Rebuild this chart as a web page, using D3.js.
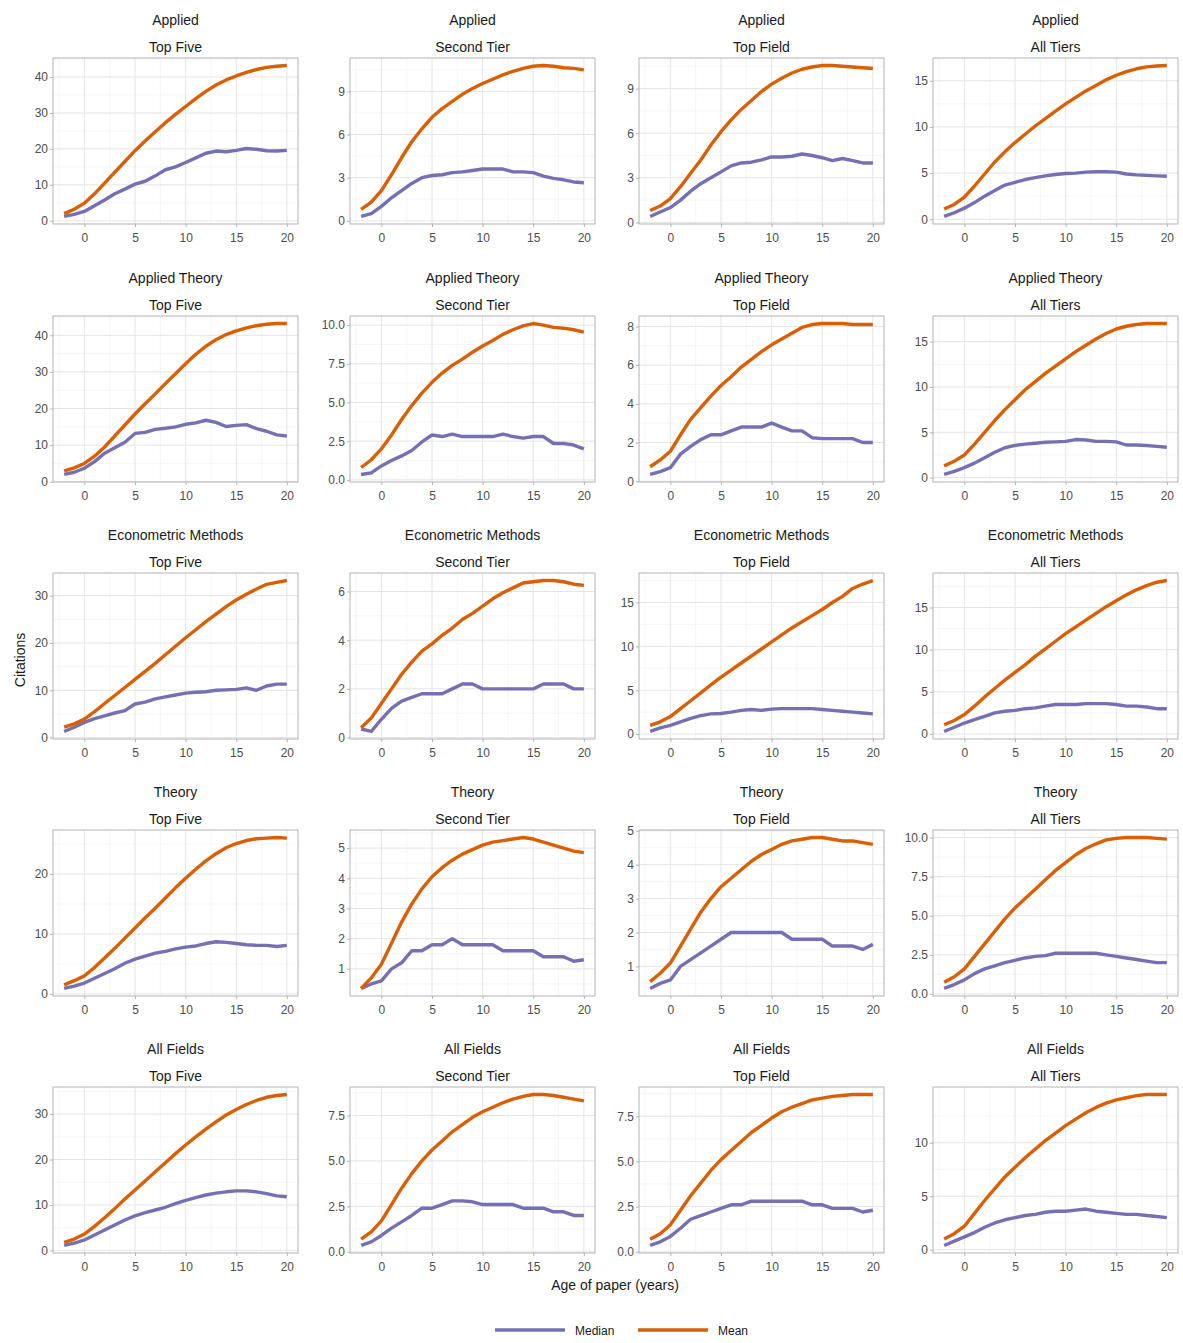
<html>
<head>
<meta charset="utf-8">
<script src="https://d3js.org/d3.v7.min.js"></script>
<style>
  body { margin: 0; background: #fff; }
  text { font-family: "Liberation Sans", Arial, sans-serif; }
</style>
</head>
<body>
<svg id="chart" width="1183" height="1343"></svg>
<script>
// ---- data ----
var fields = ["Applied", "Applied Theory", "Econometric Methods", "Theory", "All Fields"];
var tiers = ["Top Five", "Second Tier", "Top Field", "All Tiers"];
var ages = [-2, -1, 0, 1, 2, 3, 4, 5, 6, 7, 8, 9, 10, 11, 12, 13, 14, 15, 16, 17, 18, 19, 20];
var xTicks = [0, 5, 10, 15, 20];

// one list per tier (Top Five, Second Tier, Top Field, All Tiers)
var appliedMean = [
  [2, 3.2, 4.9, 7.5, 10.5, 13.5, 16.5, 19.5, 22.2, 24.8, 27.3, 29.6, 31.8, 34, 36, 37.8, 39.2, 40.3, 41.3, 42.1, 42.7, 43, 43.2],
  [0.8, 1.3, 2.1, 3.2, 4.4, 5.5, 6.4, 7.2, 7.8, 8.3, 8.8, 9.2, 9.55, 9.85, 10.15, 10.4, 10.6, 10.75, 10.8, 10.75, 10.65, 10.6, 10.5],
  [0.8, 1.1, 1.6, 2.4, 3.3, 4.2, 5.2, 6.1, 6.9, 7.6, 8.2, 8.8, 9.3, 9.7, 10.05, 10.3, 10.45, 10.55, 10.55, 10.5, 10.45, 10.4, 10.35],
  [1.1, 1.6, 2.4, 3.6, 4.9, 6.2, 7.3, 8.3, 9.2, 10.1, 10.9, 11.7, 12.5, 13.2, 13.9, 14.5, 15.1, 15.6, 16, 16.3, 16.5, 16.6, 16.65]
];
var appliedMedian = [
  [1.2, 1.8, 2.6, 4.2, 5.8, 7.5, 8.8, 10.2, 11, 12.5, 14.2, 15, 16.2, 17.5, 18.8, 19.4, 19.2, 19.6, 20.1, 19.9, 19.5, 19.4, 19.6],
  [0.3, 0.5, 1, 1.6, 2.1, 2.6, 3, 3.15, 3.2, 3.35, 3.4, 3.5, 3.6, 3.6, 3.6, 3.4, 3.4, 3.35, 3.1, 2.95, 2.85, 2.7, 2.65],
  [0.4, 0.7, 1, 1.5, 2.1, 2.6, 3, 3.4, 3.8, 4, 4.05, 4.2, 4.4, 4.4, 4.45, 4.6, 4.5, 4.35, 4.15, 4.3, 4.15, 4, 4],
  [0.3, 0.7, 1.2, 1.8, 2.5, 3.1, 3.7, 4, 4.3, 4.5, 4.7, 4.85, 4.95, 5, 5.1, 5.15, 5.15, 5.1, 4.9, 4.8, 4.75, 4.7, 4.65]
];
var appliedTheoryMean = [
  [3, 3.8, 5, 7, 9.5, 12.5, 15.5, 18.5, 21.3, 24, 26.8, 29.5, 32.2, 34.8, 37, 38.8, 40.2, 41.2, 42, 42.6, 43, 43.2, 43.2],
  [0.8, 1.3, 2, 2.9, 3.9, 4.8, 5.6, 6.3, 6.9, 7.4, 7.8, 8.25, 8.65, 9, 9.4, 9.7, 9.95, 10.1, 10, 9.85, 9.8, 9.7, 9.55],
  [0.75, 1.1, 1.55, 2.4, 3.2, 3.8, 4.4, 4.95, 5.4, 5.9, 6.3, 6.7, 7.05, 7.35, 7.65, 7.95, 8.1, 8.15, 8.15, 8.15, 8.1, 8.1, 8.1],
  [1.3, 1.8, 2.5, 3.7, 5, 6.3, 7.5, 8.6, 9.7, 10.6, 11.5, 12.3, 13.1, 13.9, 14.6, 15.3, 15.9, 16.4, 16.7, 16.9, 17, 17, 17]
];
var appliedTheoryMedian = [
  [2, 2.6, 3.7, 5.5, 7.8, 9.3, 10.8, 13.2, 13.5, 14.3, 14.6, 15, 15.7, 16.1, 16.8, 16.2, 15.1, 15.4, 15.6, 14.5, 13.8, 12.8, 12.5],
  [0.35, 0.45, 0.9, 1.25, 1.55, 1.9, 2.45, 2.9, 2.8, 2.95, 2.8, 2.8, 2.8, 2.8, 2.95, 2.8, 2.7, 2.8, 2.8, 2.35, 2.35, 2.25, 2],
  [0.35, 0.5, 0.7, 1.4, 1.8, 2.15, 2.4, 2.4, 2.6, 2.8, 2.8, 2.8, 3, 2.8, 2.6, 2.6, 2.25, 2.2, 2.2, 2.2, 2.2, 2, 2],
  [0.35, 0.7, 1.1, 1.6, 2.2, 2.8, 3.3, 3.55, 3.7, 3.8, 3.9, 3.95, 4, 4.2, 4.15, 4, 4, 3.95, 3.6, 3.6, 3.55, 3.45, 3.35]
];
var econometricMean = [
  [2.2, 2.9, 3.9, 5.5, 7.2, 8.9, 10.6, 12.3, 14, 15.7, 17.5, 19.3, 21.1, 22.8, 24.5, 26.1, 27.7, 29.1, 30.3, 31.4, 32.4, 32.8, 33.2],
  [0.4, 0.8, 1.4, 2, 2.6, 3.1, 3.55, 3.85, 4.2, 4.5, 4.85, 5.1, 5.4, 5.7, 5.95, 6.15, 6.35, 6.4, 6.45, 6.45, 6.4, 6.3, 6.25],
  [1, 1.4, 2, 2.9, 3.8, 4.7, 5.6, 6.5, 7.3, 8.1, 8.9, 9.7, 10.5, 11.3, 12.1, 12.8, 13.5, 14.2, 15, 15.7, 16.6, 17.1, 17.5],
  [1.1, 1.6, 2.3, 3.3, 4.4, 5.4, 6.4, 7.3, 8.2, 9.2, 10.1, 11, 11.9, 12.7, 13.5, 14.3, 15.1, 15.8, 16.5, 17.1, 17.6, 18, 18.2]
];
var econometricMedian = [
  [1.3, 2.2, 3.2, 4, 4.6, 5.2, 5.7, 7.1, 7.5, 8.2, 8.6, 9, 9.4, 9.6, 9.7, 10, 10.1, 10.2, 10.5, 10, 10.9, 11.3, 11.3],
  [0.35, 0.25, 0.75, 1.2, 1.5, 1.65, 1.8, 1.8, 1.8, 2, 2.2, 2.2, 2, 2, 2, 2, 2, 2, 2.2, 2.2, 2.2, 2, 2],
  [0.3, 0.7, 1, 1.4, 1.8, 2.1, 2.3, 2.35, 2.5, 2.7, 2.8, 2.7, 2.85, 2.9, 2.9, 2.9, 2.9, 2.8, 2.7, 2.6, 2.5, 2.4, 2.3],
  [0.3, 0.8, 1.3, 1.7, 2.1, 2.5, 2.7, 2.8, 3, 3.1, 3.3, 3.5, 3.5, 3.5, 3.6, 3.6, 3.6, 3.5, 3.3, 3.3, 3.2, 3, 3]
];
var theoryMean = [
  [1.5, 2.2, 3, 4.4, 6, 7.6, 9.3, 11, 12.7, 14.3, 16, 17.7, 19.3, 20.8, 22.2, 23.4, 24.4, 25.1, 25.6, 25.9, 26, 26.1, 26],
  [0.35, 0.7, 1.15, 1.85, 2.55, 3.15, 3.65, 4.05, 4.35, 4.6, 4.8, 4.95, 5.1, 5.2, 5.25, 5.3, 5.35, 5.3, 5.2, 5.1, 5, 4.9, 4.85],
  [0.55, 0.8, 1.1, 1.6, 2.1, 2.6, 3, 3.35, 3.6, 3.85, 4.1, 4.3, 4.45, 4.6, 4.7, 4.75, 4.8, 4.8, 4.75, 4.7, 4.7, 4.65, 4.6],
  [0.75, 1.1, 1.6, 2.4, 3.2, 4, 4.8, 5.5, 6.1, 6.7, 7.3, 7.9, 8.4, 8.9, 9.3, 9.6, 9.85, 9.95, 10, 10, 10, 9.95, 9.9]
];
var theoryMedian = [
  [0.9, 1.3, 1.8, 2.6, 3.4, 4.2, 5.1, 5.8, 6.3, 6.8, 7.1, 7.5, 7.8, 8, 8.4, 8.7, 8.6, 8.4, 8.2, 8.1, 8.1, 7.9, 8.1],
  [0.35, 0.5, 0.6, 1, 1.2, 1.6, 1.6, 1.8, 1.8, 2, 1.8, 1.8, 1.8, 1.8, 1.6, 1.6, 1.6, 1.6, 1.4, 1.4, 1.4, 1.25, 1.3],
  [0.35, 0.5, 0.6, 1, 1.2, 1.4, 1.6, 1.8, 2, 2, 2, 2, 2, 2, 1.8, 1.8, 1.8, 1.8, 1.6, 1.6, 1.6, 1.5, 1.65],
  [0.35, 0.6, 0.9, 1.3, 1.6, 1.8, 2, 2.15, 2.3, 2.4, 2.45, 2.6, 2.6, 2.6, 2.6, 2.6, 2.5, 2.4, 2.3, 2.2, 2.1, 2, 2]
];
var allFieldsMean = [
  [1.8, 2.5, 3.6, 5.3, 7.2, 9.2, 11.3, 13.3, 15.3, 17.3, 19.3, 21.3, 23.2, 25, 26.7, 28.3, 29.8, 31, 32.1, 33, 33.7, 34.1, 34.3],
  [0.7, 1.1, 1.7, 2.6, 3.5, 4.3, 5, 5.6, 6.1, 6.6, 7, 7.4, 7.7, 7.95, 8.2, 8.4, 8.55, 8.65, 8.65, 8.6, 8.5, 8.4, 8.3],
  [0.7, 1, 1.5, 2.3, 3.1, 3.8, 4.5, 5.1, 5.6, 6.1, 6.6, 7, 7.4, 7.75, 8, 8.2, 8.4, 8.5, 8.6, 8.65, 8.7, 8.7, 8.7],
  [1, 1.5, 2.2, 3.4, 4.6, 5.7, 6.8, 7.7, 8.6, 9.4, 10.2, 10.9, 11.6, 12.2, 12.8, 13.3, 13.7, 14, 14.2, 14.4, 14.5, 14.5, 14.5]
];
var allFieldsMedian = [
  [1.1, 1.6, 2.3, 3.4, 4.5, 5.6, 6.7, 7.6, 8.3, 8.9, 9.5, 10.3, 11, 11.6, 12.2, 12.6, 12.9, 13.1, 13.1, 12.9, 12.5, 12, 11.8],
  [0.35, 0.55, 0.9, 1.3, 1.65, 2, 2.4, 2.4, 2.6, 2.8, 2.8, 2.75, 2.6, 2.6, 2.6, 2.6, 2.4, 2.4, 2.4, 2.2, 2.2, 2, 2],
  [0.35, 0.55, 0.85, 1.3, 1.8, 2, 2.2, 2.4, 2.6, 2.6, 2.8, 2.8, 2.8, 2.8, 2.8, 2.8, 2.6, 2.6, 2.4, 2.4, 2.4, 2.2, 2.3],
  [0.4, 0.8, 1.2, 1.6, 2.1, 2.5, 2.8, 3, 3.2, 3.3, 3.5, 3.6, 3.6, 3.7, 3.8, 3.6, 3.5, 3.4, 3.3, 3.3, 3.2, 3.1, 3]
];

// y tick labels per field, per tier
var appliedTicks = [[0, 10, 20, 30, 40], [0, 3, 6, 9], [0, 3, 6, 9], [0, 5, 10, 15]];
var appliedTheoryTicks = [[0, 10, 20, 30, 40], [0, 2.5, 5, 7.5, 10], [0, 2, 4, 6, 8], [0, 5, 10, 15]];
var econometricTicks = [[0, 10, 20, 30], [0, 2, 4, 6], [0, 5, 10, 15], [0, 5, 10, 15]];
var theoryTicks = [[0, 10, 20], [1, 2, 3, 4, 5], [1, 2, 3, 4, 5], [0, 2.5, 5, 7.5, 10]];
var allFieldsTicks = [[0, 10, 20, 30], [0, 2.5, 5, 7.5], [0, 2.5, 5, 7.5], [0, 5, 10]];

var meanByField = [appliedMean, appliedTheoryMean, econometricMean, theoryMean, allFieldsMean];
var medianByField = [appliedMedian, appliedTheoryMedian, econometricMedian, theoryMedian, allFieldsMedian];
var ticksByField = [appliedTicks, appliedTheoryTicks, econometricTicks, theoryTicks, allFieldsTicks];

// ---- layout ----
var colLeft = [53, 350, 639, 933];
var rowTop = [58, 316, 573, 830, 1087];
var panelW = 245, panelH = 166;
var medianColor = "#7570b3", meanColor = "#d95f02";

var svg = d3.select("#chart");

function expand(lo, hi) {
  var pad = (hi - lo) * 0.05;
  return [lo - pad, hi + pad];
}

fields.forEach(function(field, r) {
  tiers.forEach(function(tier, c) {
    var med = medianByField[r][c], mean = meanByField[r][c];
    var yt = ticksByField[r][c];
    var all = med.concat(mean);

    var x = d3.scaleLinear().domain(expand(-2, 20)).range([0, panelW]);
    var y = d3.scaleLinear().domain(expand(d3.min(all), d3.max(all))).range([panelH, 0]);

    var g = svg.append("g").attr("transform", "translate(" + colLeft[c] + "," + rowTop[r] + ")");

    // strip titles
    g.append("text").attr("x", panelW / 2).attr("y", -33).attr("text-anchor", "middle")
      .attr("font-size", 14).attr("fill", "#1a1a1a").text(field);
    g.append("text").attr("x", panelW / 2).attr("y", -6).attr("text-anchor", "middle")
      .attr("font-size", 14).attr("fill", "#1a1a1a").text(tier);

    // minor grid
    var step = yt[1] - yt[0];
    var yMinor = [];
    for (var i = 0; i <= yt.length; i++) {
      var v = yt[0] + (i - 0.5) * step;
      if (v > y.domain()[0] && v < y.domain()[1]) yMinor.push(v);
    }
    var xMinor = [-2.5, 2.5, 7.5, 12.5, 17.5];
    g.selectAll(".mx").data(xMinor).enter().append("line")
      .attr("x1", function(d) { return x(d); }).attr("x2", function(d) { return x(d); })
      .attr("y1", 0).attr("y2", panelH).attr("stroke", "#f0f0f0").attr("stroke-width", 0.6);
    g.selectAll(".my").data(yMinor).enter().append("line")
      .attr("y1", function(d) { return y(d); }).attr("y2", function(d) { return y(d); })
      .attr("x1", 0).attr("x2", panelW).attr("stroke", "#f0f0f0").attr("stroke-width", 0.6);

    // major grid
    g.selectAll(".gx").data(xTicks).enter().append("line")
      .attr("x1", function(d) { return x(d); }).attr("x2", function(d) { return x(d); })
      .attr("y1", 0).attr("y2", panelH).attr("stroke", "#e4e4e4").attr("stroke-width", 1);
    g.selectAll(".gy").data(yt).enter().append("line")
      .attr("y1", function(d) { return y(d); }).attr("y2", function(d) { return y(d); })
      .attr("x1", 0).attr("x2", panelW).attr("stroke", "#e4e4e4").attr("stroke-width", 1);

    // lines
    var line = d3.line()
      .x(function(d, i) { return x(ages[i]); })
      .y(function(d) { return y(d); });
    g.append("path").attr("d", line(med)).attr("fill", "none")
      .attr("stroke", medianColor).attr("stroke-width", 3.4).attr("stroke-linejoin", "round");
    g.append("path").attr("d", line(mean)).attr("fill", "none")
      .attr("stroke", meanColor).attr("stroke-width", 3.4).attr("stroke-linejoin", "round");

    // border
    g.append("rect").attr("width", panelW).attr("height", panelH)
      .attr("fill", "none").attr("stroke", "#b3b3b3").attr("stroke-width", 1);

    // axes
    var fmt = yt.some(function(d) { return d % 1 !== 0; }) ? d3.format(".1f") : d3.format("d");
    var yAxis = g.append("g").call(d3.axisLeft(y).tickValues(yt).tickFormat(fmt).tickSize(3).tickPadding(2));
    var xAxis = g.append("g").attr("transform", "translate(0," + panelH + ")")
      .call(d3.axisBottom(x).tickValues(xTicks).tickSize(3).tickPadding(6));
    [yAxis, xAxis].forEach(function(a) {
      a.select(".domain").remove();
      a.selectAll("line").attr("stroke", "#b3b3b3");
      a.selectAll("text").attr("fill", "#4d4d4d").attr("font-size", 12)
        .attr("font-family", "Liberation Sans, Arial, sans-serif");
    });
  });
});

// axis titles
svg.append("text").attr("x", 615).attr("y", 1290).attr("text-anchor", "middle")
  .attr("font-size", 14).attr("fill", "#1a1a1a").text("Age of paper (years)");
svg.append("text").attr("transform", "translate(25,660) rotate(-90)").attr("text-anchor", "middle")
  .attr("font-size", 14).attr("fill", "#1a1a1a").text("Citations");

// legend
var legendItems = [{ label: "Median", color: medianColor, x: 495 }, { label: "Mean", color: meanColor, x: 638 }];
var lg = svg.append("g");
legendItems.forEach(function(d) {
  lg.append("line").attr("x1", d.x).attr("x2", d.x + 70).attr("y1", 1330).attr("y2", 1330)
    .attr("stroke", d.color).attr("stroke-width", 3.4);
  lg.append("text").attr("x", d.x + 80).attr("y", 1335).attr("font-size", 12)
    .attr("fill", "#1a1a1a").text(d.label);
});
</script>
</body>
</html>
